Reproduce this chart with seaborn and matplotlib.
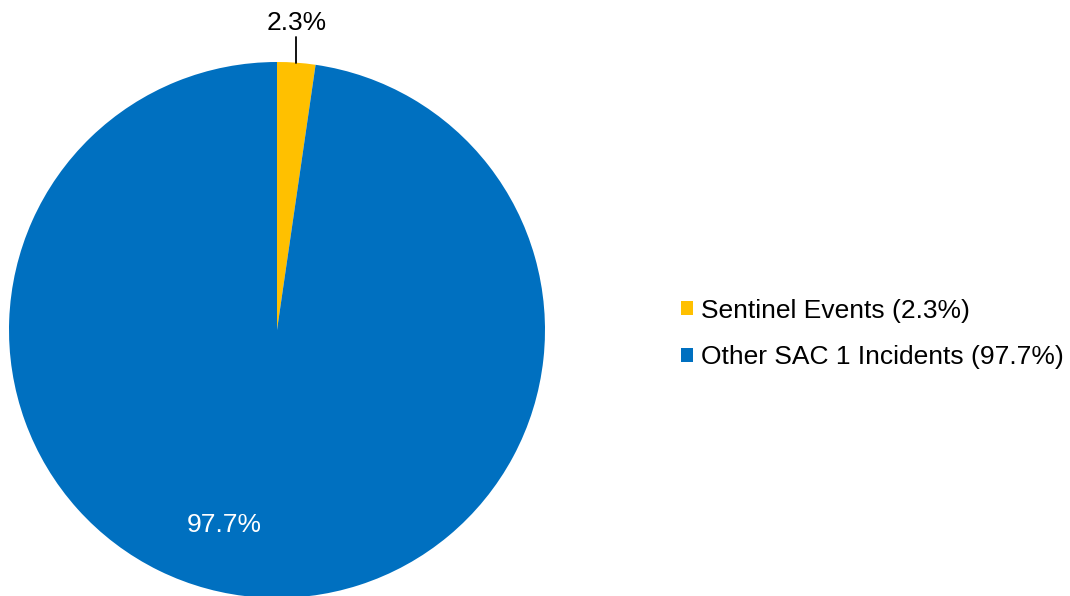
import matplotlib
matplotlib.use("Agg")
import matplotlib.pyplot as plt
import seaborn as sns
import numpy as np

# Share of SAC 1 incidents
categories = ["Sentinel Events", "Other SAC 1 Incidents"]
shares = [2.3, 97.7]
colors = ["#FFC000", "#0070C0"]

sns.set_theme(style="white")
plt.rcParams["font.family"] = ["Liberation Sans", "DejaVu Sans"]
plt.rcParams["text.color"] = "black"

W, H = 1070, 596
fig = plt.figure(figsize=(W / 100, H / 100), dpi=100)
fig.patch.set_facecolor("white")

# pie centre (277, 330) px, radius 268 px
cx, cy, r = 277, 330, 268
ax = fig.add_axes([(cx - r) / W, (H - cy - r) / H, 2 * r / W, 2 * r / H])

wedges, _ = ax.pie(shares, colors=colors, startangle=90, counterclock=False,
                   radius=1, wedgeprops=dict(linewidth=0))
ax.set_xlim(-1, 1)
ax.set_ylim(-1, 1)
ax.set_aspect("equal")
ax.axis("off")
for w in wedges:
    w.set_clip_on(False)

# outside label for the small slice with a leader line
w0 = wedges[0]
mid = np.deg2rad((w0.theta1 + w0.theta2) / 2)
x0, y0 = np.cos(mid), np.sin(mid)
ax.plot([x0, x0], [y0, 1.093], color="black", lw=1.3, clip_on=False)
ax.text(x0, 1.10, f"{shares[0]}%", ha="center", va="bottom", fontsize=19,
        color="black", clip_on=False)

# inside label for the large slice
ax.text(-0.198, -0.728, f"{shares[1]}%", ha="center", va="center",
        fontsize=19, color="white")

labels = [f"{c} ({v}%)" for c, v in zip(categories, shares)]
fig.legend(wedges, labels, loc="center left",
           bbox_to_anchor=(681 / W, 1 - 334 / H), frameon=False,
           fontsize=19, handlelength=0.46, handleheight=0.46,
           handletextpad=0.3, labelspacing=0.87, borderpad=0,
           borderaxespad=0, labelcolor="black")

fig.savefig("out.png", dpi=100, facecolor="white")
